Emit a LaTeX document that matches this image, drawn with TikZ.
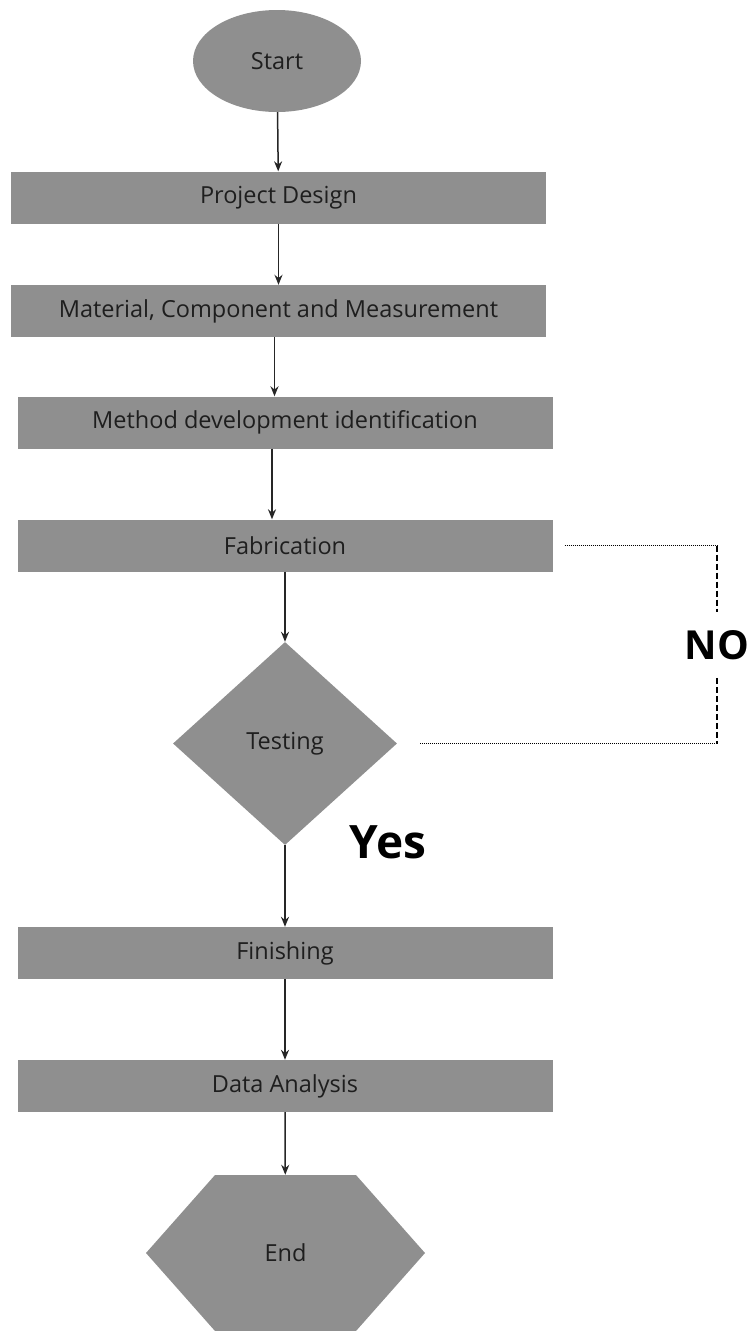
\documentclass[tikz,border=0pt]{standalone}
\usepackage{fontspec}
\setmainfont{Open Sans}
\usetikzlibrary{arrows.meta,positioning,shapes}

\definecolor{boxgray}{RGB}{143,143,143}
\definecolor{txtgray}{RGB}{30,30,30}

\begin{document}
\begin{tikzpicture}[x=1pt, y=-1pt,
    stepbox/.style={rectangle, fill=boxgray, text=txtgray, minimum width=535pt, minimum height=52pt, inner sep=0pt, font=\fontsize{23.5}{26}\selectfont},
    flow/.style={-{Stealth[length=10pt,width=8pt]}, line width=1.5pt, black!85},
    dotline/.style={line width=1.3pt, dash pattern=on 1pt off 1pt},
    dashline/.style={line width=1.3pt, dash pattern=on 6pt off 3pt}]
    \useasboundingbox (0,0) rectangle (749,1331);

    % Start and the steps
    \node[ellipse, fill=boxgray, text=txtgray, minimum width=168pt, minimum height=102pt, inner sep=0pt, font=\fontsize{23.5}{26}\selectfont] (start) at (277,61) {Start};
    \node[stepbox] (design) at (278.5,197.5) {Project Design};
    \node[stepbox] (material) at (278.5,311) {Material, Component and Measurement};
    \node[stepbox] (method) at (285,422.5) {Method development identification};
    \node[stepbox] (fab) at (285,545.5) {Fabrication};

    % Decision
    \node[diamond, fill=boxgray, text=txtgray, minimum width=224pt, minimum height=203pt, inner sep=0pt, font=\fontsize{23.5}{26}\selectfont] (test) at (285,743.5) {Testing};
    \node[font=\fontsize{46}{50}\selectfont\bfseries] (yes) at (388,842) {Yes};
    \node[font=\fontsize{40}{44}\selectfont\bfseries, inner ysep=18pt] (no) at (717,645) {NO};

    \node[stepbox] (finish) at (285,953) {Finishing};
    \node[stepbox] (data) at (285,1086) {Data Analysis};

    % End
    \node[signal, signal to=west and east, signal pointer angle=97, fill=boxgray, text=txtgray, minimum width=279pt, minimum height=156pt, inner sep=0pt, font=\fontsize{23.5}{26}\selectfont] (end) at (285.5,1253) {End};

    % Arrows
    \draw[flow] (start) -- (design);
    \draw[flow] (design) -- (design |- material.north);
    \draw[flow] ([xshift=-4pt]material.south) -- ([xshift=-4pt]material.south |- method.north);
    \draw[flow] ([xshift=-13pt]method.south) -- ([xshift=-13pt]fab.north);
    \draw[flow] (fab) -- (test);
    \draw[flow] (test) -- (finish);
    \draw[flow] (finish) -- (data);
    \draw[flow] (data) -- (end);

    % NO loop back
    \draw[dotline] ([xshift=12pt]fab.east) -- (fab.east -| no);
    \draw[dashline] (fab.east -| no) -- (no.north);
    \draw[dashline] (no.south) -- (test.east -| no);
    \draw[dotline] (test.east -| no) -- ([xshift=23pt]test.east);
\end{tikzpicture}
\end{document}
